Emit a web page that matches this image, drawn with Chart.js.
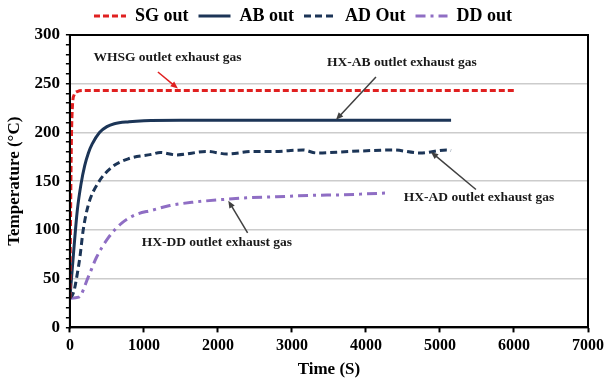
<!DOCTYPE html>
<html>
<head>
<meta charset="utf-8">
<script src="https://cdn.jsdelivr.net/npm/chart.js@4"></script>
<style>
  html, body { margin: 0; padding: 0; background: #fff; }
  #wrap { width: 608px; height: 380px; }
</style>
</head>
<body>
<div id="wrap"><canvas id="lineChart"></canvas></div>
<script>
// series: time (s) and temperature (degC)
var sgTime = [0, 10, 20, 35, 60, 100, 200, 1000, 2000, 3000, 4000, 5000, 6000];
var sgTemp = [30, 120, 190, 228, 239, 242, 243, 243, 243, 243, 243, 243, 243];

var abTime = [0, 50, 100, 150, 200, 250, 300, 400, 500, 600, 800, 1000, 1500, 2000, 3000, 4000, 5150];
var abTemp = [30, 77, 120, 147, 166, 179, 188, 200, 206, 209, 211, 212, 212.5, 212.5, 212.5, 212.5, 212.5];

var adTime = [0, 50, 100, 135, 180, 250, 380, 560, 790, 1100, 1220, 1440, 1850, 2120, 2480, 2750, 3150, 3330, 3780, 4370, 4730, 5090, 5150];
var adTemp = [30, 36, 55, 72, 100, 126, 148, 164, 173, 177.5, 179.5, 177, 180.5, 178, 180.5, 180.5, 182, 179, 180.5, 182, 179, 182, 181.5];

var ddTime = [0, 120, 250, 360, 520, 700, 900, 1100, 1350, 1670, 2030, 2390, 2790, 3240, 3690, 4000, 4300];
var ddTemp = [30, 31, 52, 72, 92, 107, 116, 120, 125, 128.5, 131, 133, 134, 135.5, 136, 137, 138];

var seriesNames = ['SG out', 'AB out', 'AD Out', 'DD out'];

// text notes with arrows, in data units
var notes = [
    { text: 'WHSG outlet exhaust gas', x: 1318, y: 277, from: [1189, 262], to: [1459, 245], color: '#e02020' },
    { text: 'HX-AB outlet exhaust gas', x: 4486, y: 272, from: [4135, 257], to: [3595, 213], color: '#404040' },
    { text: 'HX-AD outlet exhaust gas', x: 5527, y: 133, from: [5486, 141.5], to: [4878, 180], color: '#404040' },
    { text: 'HX-DD outlet exhaust gas', x: 1986, y: 87, from: [2401, 97], to: [2140, 130], color: '#404040' }
];

function pairs(xs, ys) {
    return xs.map(function(t, i) { return { x: t, y: ys[i] }; });
}

var serif = "'Liberation Serif', 'Times New Roman', serif";

var framePlugin = {
    id: 'frame',
    afterDatasetsDraw: function(chart) {
        var a = chart.chartArea, ctx = chart.ctx;
        ctx.save();
        ctx.strokeStyle = '#000';
        ctx.lineWidth = 2;
        ctx.strokeRect(a.left, a.top, a.right - a.left, a.bottom - a.top);
        ctx.restore();
    }
};

var notePlugin = {
    id: 'notes',
    afterDraw: function(chart) {
        var ctx = chart.ctx, sx = chart.scales.x, sy = chart.scales.y;
        ctx.save();
        notes.forEach(function(n) {
            ctx.font = 'bold 13.5px ' + serif;
            ctx.fillStyle = '#1a1a1a';
            ctx.textAlign = 'center';
            ctx.textBaseline = 'middle';
            ctx.fillText(n.text, sx.getPixelForValue(n.x), sy.getPixelForValue(n.y));

            var x1 = sx.getPixelForValue(n.from[0]), y1 = sy.getPixelForValue(n.from[1]);
            var x2 = sx.getPixelForValue(n.to[0]), y2 = sy.getPixelForValue(n.to[1]);
            var ang = Math.atan2(y2 - y1, x2 - x1);
            ctx.strokeStyle = n.color;
            ctx.fillStyle = n.color;
            ctx.lineWidth = 1.5;
            ctx.beginPath();
            ctx.moveTo(x1, y1);
            ctx.lineTo(x2 - 5 * Math.cos(ang), y2 - 5 * Math.sin(ang));
            ctx.stroke();
            ctx.beginPath();
            ctx.moveTo(x2, y2);
            ctx.lineTo(x2 - 8 * Math.cos(ang - 0.4), y2 - 8 * Math.sin(ang - 0.4));
            ctx.lineTo(x2 - 8 * Math.cos(ang + 0.4), y2 - 8 * Math.sin(ang + 0.4));
            ctx.closePath();
            ctx.fill();
        });
        ctx.restore();
    }
};

var ctxLine = document.getElementById('lineChart').getContext('2d');
var lineChart = new Chart(ctxLine, {
    type: 'line',
    data: {
        datasets: [
            {
                label: seriesNames[0],
                data: pairs(sgTime, sgTemp),
                borderColor: '#e02020',
                backgroundColor: '#e02020',
                borderWidth: 3,
                borderDash: [6, 3]
            },
            {
                label: seriesNames[1],
                data: pairs(abTime, abTemp),
                borderColor: '#1c3557',
                backgroundColor: '#1c3557',
                borderWidth: 3
            },
            {
                label: seriesNames[2],
                data: pairs(adTime, adTemp),
                borderColor: '#1c3557',
                backgroundColor: '#1c3557',
                borderWidth: 3,
                borderDash: [7, 4]
            },
            {
                label: seriesNames[3],
                data: pairs(ddTime, ddTemp),
                borderColor: '#8f6ec4',
                backgroundColor: '#8f6ec4',
                borderWidth: 3,
                borderDash: [10, 5, 3, 5]
            }
        ]
    },
    options: {
        responsive: true,
        maintainAspectRatio: false,
        animation: false,
        layout: { padding: { left: 4, right: 6, top: -3, bottom: 0 } },
        elements: {
            point: { radius: 0 },
            line: { cubicInterpolationMode: 'monotone', fill: false }
        },
        plugins: {
            tooltip: { enabled: false },
            legend: {
                position: 'top',
                labels: {
                    usePointStyle: true,
                    pointStyle: 'line',
                    pointStyleWidth: 32,
                    boxHeight: 14,
                    padding: 10,
                    color: '#000',
                    font: { family: serif, size: 18, weight: 'bold' },
                    generateLabels: function(chart) {
                        var items = Chart.defaults.plugins.legend.labels.generateLabels(chart);
                        items.forEach(function(it) {
                            var ds = chart.data.datasets[it.datasetIndex];
                            it.lineDash = ds.borderDash || [];
                            it.lineWidth = 3;
                            it.strokeStyle = ds.borderColor;
                        });
                        return items;
                    }
                }
            }
        },
        scales: {
            x: {
                type: 'linear',
                min: 0,
                max: 7000,
                ticks: {
                    stepSize: 1000,
                    color: '#000',
                    padding: 4,
                    font: { family: serif, size: 16, weight: 'bold' },
                    callback: function(v) { return String(v); }
                },
                grid: { drawOnChartArea: false, tickColor: '#000', tickLength: 5, tickWidth: 2 },
                border: { color: '#000', width: 2 },
                title: {
                    display: true,
                    text: 'Time (S)',
                    color: '#000',
                    padding: { top: 0, bottom: 0 },
                    font: { family: serif, size: 17, weight: 'bold' }
                }
            },
            y: {
                min: 0,
                max: 300,
                ticks: {
                    stepSize: 10,
                    autoSkip: false,
                    color: '#000',
                    padding: 6,
                    font: { family: serif, size: 17, weight: 'bold' },
                    callback: function(v) { return v % 50 === 0 ? v : ''; }
                },
                grid: {
                    color: function(c) {
                        var v = c.tick ? c.tick.value : 1;
                        return (v % 50 === 0 && v !== 0) ? '#cccccc' : 'rgba(0,0,0,0)';
                    },
                    tickColor: '#000',
                    tickLength: 4,
                    lineWidth: 1.5
                },
                border: { color: '#000', width: 2 },
                title: {
                    display: true,
                    text: 'Temperature (°C)',
                    color: '#000',
                    padding: { top: 0, bottom: 4 },
                    font: { family: serif, size: 17, weight: 'bold' }
                }
            }
        }
    },
    plugins: [framePlugin, notePlugin]
});
</script>
</body>
</html>
